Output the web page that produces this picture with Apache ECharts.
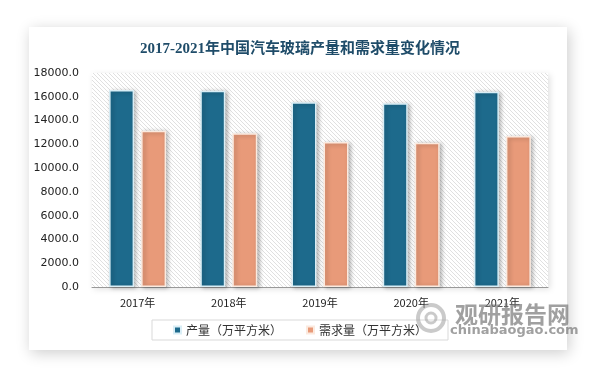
<!DOCTYPE html>
<html>
<head>
<meta charset="utf-8">
<script src="https://cdn.jsdelivr.net/npm/echarts@6/dist/echarts.min.js"></script>
<style>
html,body{margin:0;padding:0;background:#ffffff;}
#chart{width:600px;height:384px;}
</style>
</head>
<body>
<div id="chart"></div>
<script>
var categories = ['2017年', '2018年', '2019年', '2020年', '2021年'];
var production = [16570, 16510, 15530, 15450, 16430];
var demand = [13150, 12930, 12200, 12140, 12700];
var seriesNames = ['产量（万平方米）', '需求量（万平方米）'];
var yTicks = { min: 0, max: 18000, interval: 2000 };

function makeHatch() {
  var size = 4;
  var c = document.createElement('canvas');
  c.width = size; c.height = size;
  var ctx = c.getContext('2d');
  ctx.fillStyle = '#ffffff';
  ctx.fillRect(0, 0, size, size);
  for (var i = 0; i < size; i++) {
    ctx.fillStyle = '#e0e0e0';
    ctx.fillRect(i, i, 1, 1);
  }
  return c;
}

var chart = echarts.init(document.getElementById('chart'), null, { renderer: 'canvas' });
var cjk = '"Noto Sans CJK SC", "DejaVu Sans", sans-serif';

var option = {
  backgroundColor: '#ffffff',
  animation: false,
  graphic: [
    {
      type: 'rect', z: -10, silent: true,
      shape: { x: 29, y: 27, width: 538, height: 323 },
      style: { fill: '#ffffff', shadowBlur: 14, shadowColor: 'rgba(0,0,0,0.2)', shadowOffsetX: 2, shadowOffsetY: 3 }
    },
    {
      type: 'text', z: 50, silent: true, left: 455, top: 303,
      style: { text: '观研报告网', fill: 'rgba(120,120,120,0.7)', font: 'bold 23px "Noto Sans CJK SC", sans-serif' }
    },
    {
      type: 'text', z: 50, silent: true, left: 450, top: 324,
      style: { text: 'chinabaogao.com', fill: 'rgba(120,120,120,0.7)', font: 'bold 13px "DejaVu Sans", sans-serif' }
    },
    {
      type: 'circle', z: 50, silent: true,
      shape: { cx: 431, cy: 318, r: 13 },
      style: { fill: 'none', stroke: 'rgba(150,150,150,0.5)', lineWidth: 4 }
    },
    {
      type: 'circle', z: 50, silent: true,
      shape: { cx: 431, cy: 318, r: 5 },
      style: { fill: 'none', stroke: 'rgba(150,150,150,0.5)', lineWidth: 3 }
    }
  ],
  title: {
    text: '2017-2021年中国汽车玻璃产量和需求量变化情况',
    left: 'center',
    top: 37,
    textStyle: {
      color: '#1f4c69',
      fontSize: 15,
      fontWeight: 'bold',
      fontFamily: '"Liberation Serif", "Noto Sans CJK SC", serif'
    }
  },
  legend: {
    data: seriesNames,
    left: 152,
    top: 320,
    icon: 'rect',
    itemWidth: 7,
    itemHeight: 7,
    itemGap: 24,
    padding: [4, 21, 4, 21],
    borderColor: '#d9d9d9',
    borderWidth: 1,
    textStyle: { color: '#333', fontSize: 12, fontFamily: cjk }
  },
  grid: {
    left: 92, right: 52, top: 73, bottom: 97,
    show: true,
    backgroundColor: { image: makeHatch(), repeat: 'repeat' },
    borderWidth: 0,
    shadowBlur: 6,
    shadowColor: 'rgba(0,0,0,0.12)',
    shadowOffsetX: 2,
    shadowOffsetY: 2
  },
  xAxis: {
    type: 'category',
    data: categories,
    axisLine: { show: true, lineStyle: { color: '#999999', width: 1 } },
    axisTick: { show: false },
    axisLabel: { color: '#222', fontSize: 11, margin: 10, fontFamily: cjk }
  },
  yAxis: {
    type: 'value',
    min: yTicks.min, max: yTicks.max, interval: yTicks.interval,
    axisLine: { show: false },
    axisTick: { show: false },
    splitLine: { show: false },
    axisLabel: {
      color: '#222', fontSize: 11, margin: 13,
      fontFamily: '"DejaVu Sans", sans-serif',
      formatter: function (v) { return v.toFixed(1); }
    }
  },
  series: [
    {
      name: seriesNames[0], type: 'bar', data: production,
      barWidth: 25, barGap: '28%',
      itemStyle: {
        color: '#1d6a8c', borderColor: '#d9eef6', borderWidth: 1.5,
        shadowBlur: 4, shadowColor: 'rgba(0,0,0,0.28)', shadowOffsetX: 2, shadowOffsetY: 1
      }
    },
    {
      name: seriesNames[1], type: 'bar', data: demand,
      barWidth: 25,
      itemStyle: {
        color: '#e89a79', borderColor: '#fbeadf', borderWidth: 1.5,
        shadowBlur: 4, shadowColor: 'rgba(0,0,0,0.28)', shadowOffsetX: 2, shadowOffsetY: 1
      }
    }
  ]
};
chart.setOption(option);
</script>
</body>
</html>
